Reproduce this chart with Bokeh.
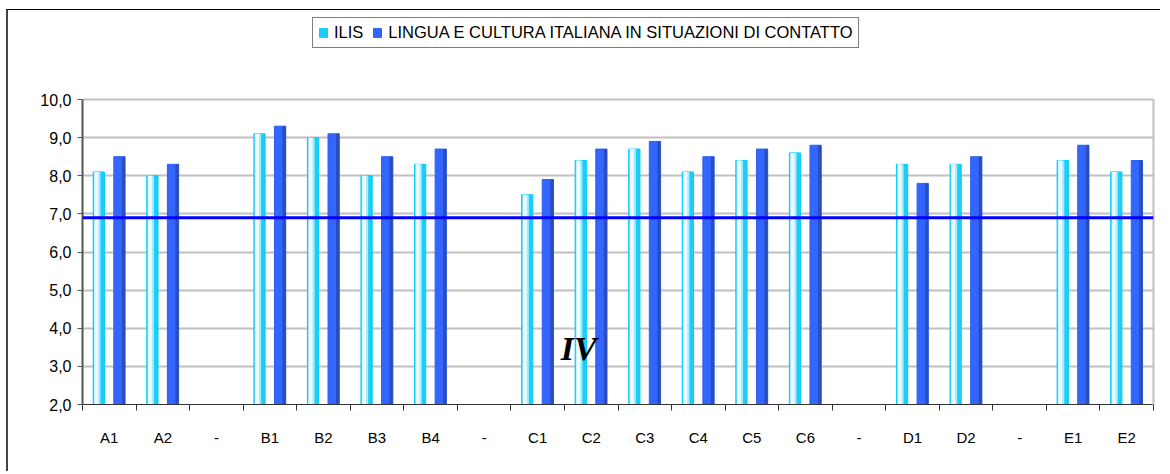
from bokeh.plotting import figure
from bokeh.models import (ColumnDataSource, FixedTicker, Span, Legend, LegendItem, Label,
                          LinearAxis)
from bokeh.transform import dodge
from bokeh.embed import file_html
from bokeh.resources import INLINE

categories = ["A1", "A2", "-", "B1", "B2", "B3", "B4", "-", "C1", "C2", "C3", "C4",
              "C5", "C6", "-", "D1", "D2", "-", "E1", "E2"]
ilis = [8.1, 8.0, None, 9.1, 9.0, 8.0, 8.3, None, 7.5, 8.4, 8.7, 8.1,
        8.4, 8.6, None, 8.3, 8.3, None, 8.4, 8.1]
lingua = [8.5, 8.3, None, 9.3, 9.1, 8.5, 8.7, None, 7.9, 8.7, 8.9, 8.5,
          8.7, 8.8, None, 7.8, 8.5, None, 8.8, 8.4]
reference_level = 6.9
y_ticks = [2, 3, 4, 5, 6, 7, 8, 9, 10]
series_names = ["ILIS", "LINGUA E CULTURA ITALIANA IN SITUAZIONI DI CONTATTO"]
annotation_text = "IV"

idx = [i for i, v in enumerate(ilis) if v is not None]
src = ColumnDataSource(dict(
    x=idx,
    ilis=[ilis[i] for i in idx],
    lingua=[lingua[i] for i in idx],
))

FONT = "Liberation Sans"
Y_MIN, Y_MAX = 2, 10
FRAME_H = 390
PX_PER_UNIT = 305 / (Y_MAX - Y_MIN)
y_top = Y_MIN + FRAME_H / PX_PER_UNIT  # room above the axis for the legend

p = figure(width=1154, height=462, output_backend="svg", toolbar_location=None,
           x_range=(-0.5, len(categories) - 0.5), y_range=(Y_MIN, y_top),
           min_border_left=74, min_border_right=9, min_border_top=4, min_border_bottom=68)
p.styles = {"margin-left": "6px", "margin-top": "9px",
            "border-top": "1px solid #000000", "border-left": "2px solid #444444"}

bw = 0.21
o1 = -0.195
o2 = 0.19
# ILIS bars with a light gradient-like sheen
r_ilis = p.vbar(x=dodge("x", o1), top="ilis", bottom=Y_MIN, width=bw, source=src,
                fill_color="#1ECDF5", line_color="#00CCFF", line_width=1)
p.vbar(x=dodge("x", o1 - 0.03), top="ilis", bottom=Y_MIN, width=0.12, source=src,
       fill_color="#A6EAFB", line_color=None)
p.vbar(x=dodge("x", o1 - 0.045), top="ilis", bottom=Y_MIN, width=0.07, source=src,
       fill_color="#EEFBFF", line_color=None)
# Lingua bars with darker right edge
r_lin = p.vbar(x=dodge("x", o2), top="lingua", bottom=Y_MIN, width=bw, source=src,
               fill_color="#3366FF", line_color="#2F5FEE", line_width=1)
p.vbar(x=dodge("x", o2 + 0.075), top="lingua", bottom=Y_MIN, width=0.06, source=src,
       fill_color="#2A4CBF", line_color=None)

p.add_layout(Span(location=reference_level, dimension="width",
                  line_color="#0000FF", line_width=3))

p.add_layout(Label(x=8.43, y=3.47, text=annotation_text, text_font="Liberation Serif",
                   text_font_style="bold italic", text_font_size="34px",
                   text_color="#000000", text_baseline="alphabetic"))

# axes
p.xaxis.ticker = FixedTicker(ticks=list(range(len(categories))),
                             minor_ticks=[i - 0.5 for i in range(len(categories) + 1)])
p.xaxis.major_label_overrides = {i: c for i, c in enumerate(categories)}
p.xaxis.major_tick_out = 0
p.xaxis.major_tick_in = 0
p.xaxis.minor_tick_out = 6
p.xaxis.minor_tick_in = 0
p.xaxis.minor_tick_line_color = "#333333"
p.xaxis.axis_line_color = "#333333"
p.xaxis.major_label_standoff = 18
p.xaxis.major_label_text_font = FONT
p.xaxis.major_label_text_font_size = "15px"
p.xaxis.major_label_text_color = "#000000"

p.yaxis.ticker = FixedTicker(ticks=y_ticks, minor_ticks=[])
p.yaxis.bounds = (Y_MIN, Y_MAX)
p.yaxis.major_label_overrides = {t: f"{t:.1f}".replace(".", ",") for t in y_ticks}
p.yaxis.major_tick_out = 5
p.yaxis.major_tick_in = 0
p.yaxis.major_tick_line_color = "#555555"
p.yaxis.axis_line_color = "#555555"
p.yaxis.axis_line_width = 2
p.yaxis.major_label_standoff = 6
p.yaxis.major_label_text_font = FONT
p.yaxis.major_label_text_font_size = "16px"
p.yaxis.major_label_text_color = "#000000"

right_edge = LinearAxis(bounds=(Y_MIN, Y_MAX), ticker=FixedTicker(ticks=[], minor_ticks=[]),
                        major_tick_out=0, major_tick_in=0, major_label_standoff=0,
                        major_label_text_font_size="0px",
                        axis_line_color="#C0C0C0", axis_line_width=2)
p.add_layout(right_edge, "right")

p.xgrid.grid_line_color = None
p.ygrid.grid_line_color = "#C0C0C0"
p.ygrid.grid_line_width = 2
p.outline_line_color = None
p.background_fill_color = "#FFFFFF"
p.border_fill_color = "#FFFFFF"

legend = Legend(items=[LegendItem(label=series_names[0], renderers=[r_ilis]),
                       LegendItem(label=series_names[1], renderers=[r_lin])],
                location=(230, 356), orientation="horizontal",
                border_line_color="#000000", border_line_width=1,
                background_fill_color="#FFFFFF", background_fill_alpha=1,
                label_text_font=FONT, label_text_font_size="16.5px",
                label_text_color="#000000",
                glyph_width=10, glyph_height=11, label_standoff=6, spacing=9,
                padding=5, margin=0, label_height=12)
p.add_layout(legend, "center")

open("out.html", "w").write(file_html(p, INLINE))
